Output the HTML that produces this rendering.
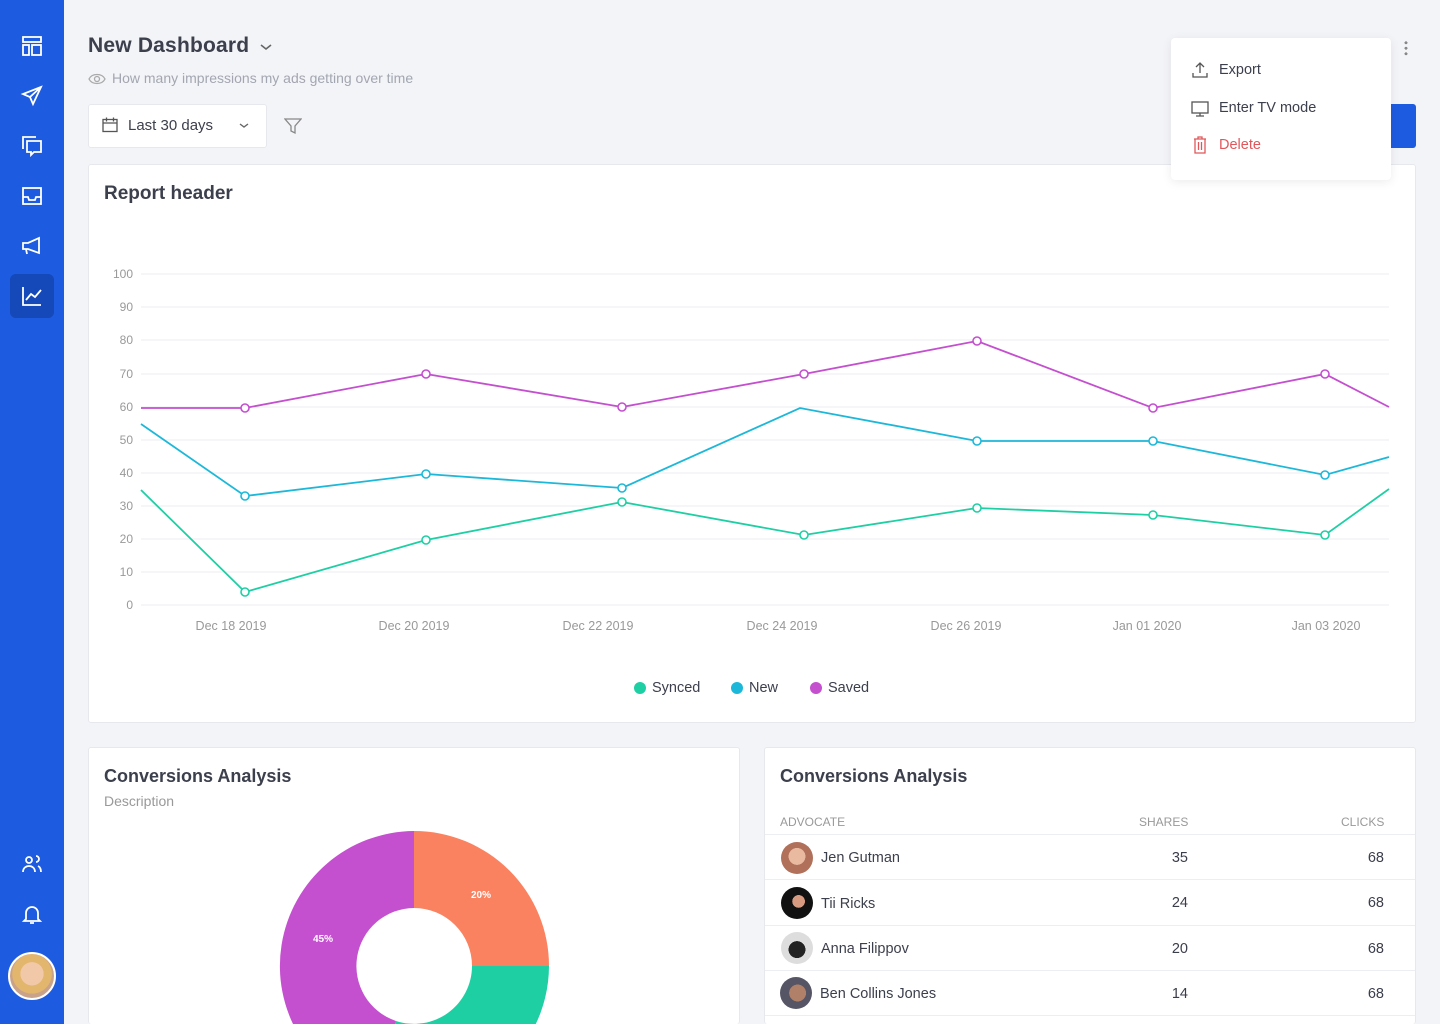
<!DOCTYPE html>
<html style="overflow:hidden;width:1440px;height:1024px"><head><meta charset="utf-8"><style>
*{box-sizing:border-box;margin:0;padding:0}
body{width:1440px;height:1024px;overflow:hidden;background:#f3f4f8;font-family:"Liberation Sans",sans-serif;position:relative;color:#3a3d4a}
.sb{position:absolute;left:0;top:0;width:64px;height:1024px;background:#1d5be0}
.ic{position:absolute;left:20px;width:24px;height:24px}
.card{position:absolute;background:#fff;border:1px solid #e6e8ee;border-radius:3px}
.abs{position:absolute}
</style></head><body>
<div class="sb">
<svg class="ic" style="top:34px" viewBox="0 0 24 24" fill="none" stroke="#fff" stroke-width="1.8"><rect x="3" y="3" width="18" height="5"/><rect x="3" y="11" width="6" height="10"/><rect x="12" y="11" width="9" height="10"/></svg>
<svg class="ic" style="top:84px" viewBox="0 0 24 24" fill="none" stroke="#fff" stroke-width="1.8"><path d="M21 3L3 10l7 3 3 7z M10 13l11-10"/></svg>
<svg class="ic" style="top:134px" viewBox="0 0 24 24" fill="none" stroke="#fff" stroke-width="1.8"><path d="M3 15V3h13 M7 7h14v11h-7l-3 3v-3H7z"/></svg>
<svg class="ic" style="top:184px" viewBox="0 0 24 24" fill="none" stroke="#fff" stroke-width="1.8"><rect x="3" y="4" width="18" height="16"/><path d="M3 13h5l1 3h6l1-3h5"/></svg>
<svg class="ic" style="top:234px" viewBox="0 0 24 24" fill="none" stroke="#fff" stroke-width="1.8"><path d="M3 9h5l11-5v15L8 15H3z M6 15l1 5"/></svg>
<div class="abs" style="left:10px;top:274px;width:44px;height:44px;background:#1548b8;border-radius:6px"></div>
<svg class="ic" style="top:284px" viewBox="0 0 24 24" fill="none" stroke="#fff" stroke-width="1.8"><path d="M3 3v18h18 M6 16l5-6 4 3 6-7"/></svg>
<svg class="ic" style="top:852px" viewBox="0 0 24 24" fill="none" stroke="#fff" stroke-width="1.8"><circle cx="9" cy="8" r="3"/><path d="M3 20c0-4 3-6 6-6s6 2 6 6 M16 4a3 3 0 010 6 M18 14c2 1 3 3 3 6"/></svg>
<svg class="ic" style="top:902px" viewBox="0 0 24 24" fill="none" stroke="#fff" stroke-width="1.8"><path d="M6 17V11a6 6 0 0112 0v6l2 2H4z M10 21h4"/></svg>
<div class="abs" style="left:8px;top:952px;width:48px;height:48px;border-radius:50%;background:radial-gradient(circle at 50% 45%,#f2c9a8 0 35%,#e3b66e 36% 60%,#c9a28a 61%);border:2px solid #fff"></div>
</div>

<div class="abs" style="left:88px;top:34px;font-size:21px;color:#3c3f4c;font-weight:bold;letter-spacing:0.2px">New Dashboard</div>
<svg class="abs" style="left:259px;top:42px" width="14" height="10" viewBox="0 0 14 10"><path d="M2 3l5 4 5-4" stroke="#666" stroke-width="1.6" fill="none"/></svg>
<svg class="abs" style="left:88px;top:72px" width="18" height="14" viewBox="0 0 18 14"><path d="M1 7c3-6 13-6 16 0-3 6-13 6-16 0z" stroke="#aaa" fill="none" stroke-width="1.3"/><circle cx="9" cy="7" r="2.5" stroke="#aaa" fill="none" stroke-width="1.3"/></svg>
<div class="abs" style="left:112px;top:70px;font-size:14px;color:#a3a6b0">How many impressions my ads getting over time</div>
<div class="abs" style="left:88px;top:104px;width:179px;height:44px;background:#fff;border:1px solid #e6e8ee;border-radius:3px"></div>
<svg class="abs" style="left:102px;top:117px" width="16" height="16" viewBox="0 0 16 16"><rect x="1" y="2.5" width="14" height="12" stroke="#555" fill="none" stroke-width="1.3"/><path d="M1 6h14 M4.5 0.5v4 M11.5 0.5v4" stroke="#555" stroke-width="1.3"/></svg>
<div class="abs" style="left:128px;top:117px;font-size:15px;color:#3c3f4c">Last 30 days</div>
<svg class="abs" style="left:238px;top:122px" width="12" height="8" viewBox="0 0 12 8"><path d="M2 2l4 3 4-3" stroke="#666" stroke-width="1.4" fill="none"/></svg>
<svg class="abs" style="left:284px;top:117px" width="18" height="18" viewBox="0 0 18 18"><path d="M1 2h16l-6 7v7l-4-2V9z" stroke="#888" fill="none" stroke-width="1.3"/></svg>
<div class="abs" style="left:1380px;top:104px;width:36px;height:44px;background:#1d5be0;border-radius:3px"></div>
<div class="abs" style="left:1404px;top:40px;width:4px;height:16px;background:radial-gradient(circle,#888 1.4px,transparent 1.6px) 0 0/4px 5.5px"></div>

<div class="card" style="left:88px;top:164px;width:1328px;height:559px"></div>
<div class="abs" style="left:104px;top:183px;font-size:19px;font-weight:bold;color:#3c3f4c">Report header</div>
<svg class="abs" style="left:0;top:0" width="1440" height="720">
<g stroke="#eceef2" stroke-width="1">
<line x1="141" x2="1389" y1="274" y2="274"/><line x1="141" x2="1389" y1="307" y2="307"/><line x1="141" x2="1389" y1="340" y2="340"/><line x1="141" x2="1389" y1="374" y2="374"/><line x1="141" x2="1389" y1="407" y2="407"/><line x1="141" x2="1389" y1="440" y2="440"/><line x1="141" x2="1389" y1="473" y2="473"/><line x1="141" x2="1389" y1="506" y2="506"/><line x1="141" x2="1389" y1="539" y2="539"/><line x1="141" x2="1389" y1="572" y2="572"/><line x1="141" x2="1389" y1="605" y2="605"/></g>
<g font-size="12" fill="#999" text-anchor="end" font-family="Liberation Sans">
<text x="133" y="278">100</text><text x="133" y="311">90</text><text x="133" y="344">80</text><text x="133" y="378">70</text><text x="133" y="411">60</text><text x="133" y="444">50</text><text x="133" y="477">40</text><text x="133" y="510">30</text><text x="133" y="543">20</text><text x="133" y="576">10</text><text x="133" y="609">0</text></g>
<g font-size="12.5" fill="#999" text-anchor="middle" font-family="Liberation Sans">
<text x="231" y="630">Dec 18 2019</text><text x="414" y="630">Dec 20 2019</text><text x="598" y="630">Dec 22 2019</text><text x="782" y="630">Dec 24 2019</text><text x="966" y="630">Dec 26 2019</text><text x="1147" y="630">Jan 01 2020</text><text x="1326" y="630">Jan 03 2020</text></g>
<g fill="none" stroke-width="1.8">
<polyline stroke="#c44fcf" points="141,408 245,408 426,374 622,407 804,374 977,341 1153,408 1325,374 1389,407"/>
<polyline stroke="#1db8d9" points="141,424 245,496 426,474 622,488 800,408 977,441 1153,441 1325,475 1389,457"/>
<polyline stroke="#1fcfa4" points="141,490 245,592 426,540 622,502 804,535 977,508 1153,515 1325,535 1389,489"/></g>
<g fill="#fff" stroke-width="1.6">
<g stroke="#c44fcf"><circle cx="245" cy="408" r="4"/><circle cx="426" cy="374" r="4"/><circle cx="622" cy="407" r="4"/><circle cx="804" cy="374" r="4"/><circle cx="977" cy="341" r="4"/><circle cx="1153" cy="408" r="4"/><circle cx="1325" cy="374" r="4"/></g>
<g stroke="#1db8d9"><circle cx="245" cy="496" r="4"/><circle cx="426" cy="474" r="4"/><circle cx="622" cy="488" r="4"/><circle cx="977" cy="441" r="4"/><circle cx="1153" cy="441" r="4"/><circle cx="1325" cy="475" r="4"/></g>
<g stroke="#1fcfa4"><circle cx="245" cy="592" r="4"/><circle cx="426" cy="540" r="4"/><circle cx="622" cy="502" r="4"/><circle cx="804" cy="535" r="4"/><circle cx="977" cy="508" r="4"/><circle cx="1153" cy="515" r="4"/><circle cx="1325" cy="535" r="4"/></g></g>
<g font-size="14.5" fill="#3c3f4c" font-family="Liberation Sans">
<circle cx="640" cy="688" r="6" fill="#1fcfa4"/><text x="652" y="692">Synced</text>
<circle cx="737" cy="688" r="6" fill="#1db8d9"/><text x="749" y="692">New</text>
<circle cx="816" cy="688" r="6" fill="#c44fcf"/><text x="828" y="692">Saved</text></g>
</svg>

<div class="abs" style="left:1171px;top:38px;width:220px;height:142px;background:#fff;border-radius:4px;box-shadow:0 2px 10px rgba(0,0,0,0.08)"></div>
<svg class="abs" style="left:1191px;top:61px" width="18" height="18" viewBox="0 0 18 18"><path d="M9 12V2 M5 6l4-4 4 4 M2 12v4h14v-4" stroke="#555" fill="none" stroke-width="1.3"/></svg>
<div class="abs" style="left:1219px;top:62px;font-size:14.5px;color:#3c3f4c">Export</div>
<svg class="abs" style="left:1191px;top:100px" width="18" height="18" viewBox="0 0 18 18"><rect x="1" y="2" width="16" height="11" stroke="#555" fill="none" stroke-width="1.3"/><path d="M9 13v3 M5 16h8" stroke="#555" stroke-width="1.3"/></svg>
<div class="abs" style="left:1219px;top:100px;font-size:14.5px;color:#3c3f4c">Enter TV mode</div>
<svg class="abs" style="left:1191px;top:136px" width="18" height="18" viewBox="0 0 18 18"><path d="M3 3h12 M7 3V1h4v2 M4 3v14h10V3 M7.5 6v8 M10.5 6v8" stroke="#e0575b" fill="none" stroke-width="1.3"/></svg>
<div class="abs" style="left:1219px;top:137px;font-size:14.5px;color:#e0575b">Delete</div>

<div class="card" style="left:88px;top:747px;width:652px;height:277px;border-bottom:none"></div>
<div class="abs" style="left:104px;top:766px;font-size:18px;font-weight:bold;color:#3c3f4c">Conversions Analysis</div>
<div class="abs" style="left:104px;top:793px;font-size:14px;color:#999">Description</div>
<svg class="abs" style="left:279px;top:831px" width="270" height="193" viewBox="-135 -135 270 193">
<path d="M0-135A135 135 0 0 1 135 0H58A58 58 0 0 0 0-58z" fill="#fa8260"/>
<path d="M135 0A135 135 0 0 1 -42 128L-18 55A58 58 0 0 0 58 0z" fill="#1fcfa4"/>
<path d="M-42 128A135 135 0 0 1 0-135V-58A58 58 0 0 0 -18 55z" fill="#c44fcf"/>
<text x="67" y="72" fill="#fff" font-size="10" font-weight="bold" text-anchor="middle" font-family="Liberation Sans" transform="translate(0,-140)">20%</text>
<text x="-91" y="116" fill="#fff" font-size="10" font-weight="bold" text-anchor="middle" font-family="Liberation Sans" transform="translate(0,-140)">45%</text>
</svg>

<div class="card" style="left:764px;top:747px;width:652px;height:277px;border-bottom:none"></div>
<div class="abs" style="left:780px;top:766px;font-size:18px;font-weight:bold;color:#3c3f4c">Conversions Analysis</div>
<div class="abs" style="left:780px;top:815px;font-size:12px;color:#999">ADVOCATE</div>
<div class="abs" style="left:1139px;top:815px;font-size:12px;color:#999">SHARES</div>
<div class="abs" style="left:1341px;top:815px;font-size:12px;color:#999">CLICKS</div>
<div class="abs" style="left:765px;top:834px;width:650px;height:1px;background:#eceef2"></div>
<div class="abs" style="left:765px;top:879px;width:650px;height:1px;background:#eceef2"></div>
<div class="abs" style="left:765px;top:925px;width:650px;height:1px;background:#eceef2"></div>
<div class="abs" style="left:765px;top:970px;width:650px;height:1px;background:#eceef2"></div>
<div class="abs" style="left:765px;top:1015px;width:650px;height:1px;background:#eceef2"></div>
<div class="abs" style="left:781px;top:842px;width:32px;height:32px;border-radius:50%;background:radial-gradient(circle at 50% 45%,#e9b9a0 0 35%,#b0705a 36%)"></div>
<div class="abs" style="left:781px;top:887px;width:32px;height:32px;border-radius:50%;background:radial-gradient(circle at 55% 45%,#d89a80 0 25%,#111 26%)"></div>
<div class="abs" style="left:781px;top:932px;width:32px;height:32px;border-radius:50%;background:radial-gradient(circle at 50% 55%,#222 0 35%,#ddd 36%)"></div>
<div class="abs" style="left:780px;top:977px;width:32px;height:32px;border-radius:50%;background:radial-gradient(circle at 55% 50%,#b08068 0 35%,#556 36%)"></div>
<div class="abs" style="left:821px;top:850px;font-size:14.5px;color:#3c3f4c">Jen Gutman</div>
<div class="abs" style="left:821px;top:896px;font-size:14.5px;color:#3c3f4c">Tii Ricks</div>
<div class="abs" style="left:821px;top:941px;font-size:14.5px;color:#3c3f4c">Anna Filippov</div>
<div class="abs" style="left:820px;top:986px;font-size:14.5px;color:#3c3f4c">Ben Collins Jones</div>
<div class="abs" style="left:1148px;top:850px;width:40px;text-align:right;font-size:14.5px">35</div>
<div class="abs" style="left:1148px;top:895px;width:40px;text-align:right;font-size:14.5px">24</div>
<div class="abs" style="left:1148px;top:941px;width:40px;text-align:right;font-size:14.5px">20</div>
<div class="abs" style="left:1148px;top:986px;width:40px;text-align:right;font-size:14.5px">14</div>
<div class="abs" style="left:1344px;top:850px;width:40px;text-align:right;font-size:14.5px">68</div>
<div class="abs" style="left:1344px;top:895px;width:40px;text-align:right;font-size:14.5px">68</div>
<div class="abs" style="left:1344px;top:941px;width:40px;text-align:right;font-size:14.5px">68</div>
<div class="abs" style="left:1344px;top:986px;width:40px;text-align:right;font-size:14.5px">68</div>
</body></html>
